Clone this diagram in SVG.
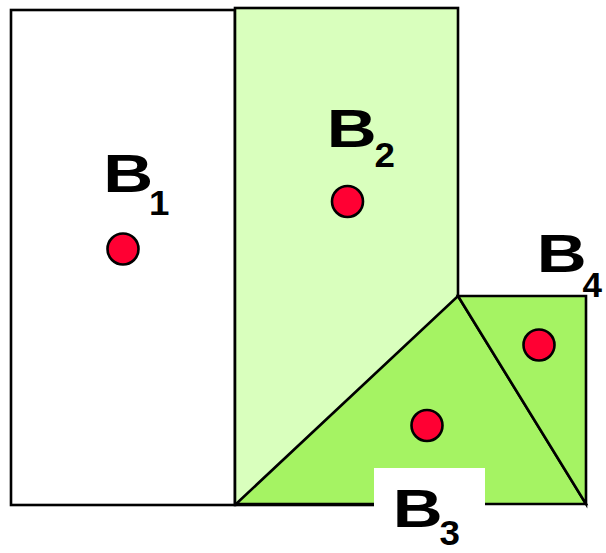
<svg xmlns="http://www.w3.org/2000/svg" width="606" height="553" viewBox="0 0 606 553">
<style>
.shape{stroke:#000;stroke-width:2.6;stroke-linejoin:miter}
.dot{fill:#ff0033;stroke:#000;stroke-width:2.6}
.lbl{font-family:"Liberation Sans",Arial,sans-serif;font-weight:bold;font-size:54px;fill:#000}
.sub{font-family:"Liberation Sans",Arial,sans-serif;font-weight:bold;font-size:35px;fill:#000}
</style>
<rect x="0" y="0" width="606" height="553" fill="#fff"/>
<g id="B1">
<rect class="shape" x="11" y="10" width="224" height="495" fill="#fff"/>
<circle class="dot" cx="123" cy="249" r="15.5"/>
<text class="lbl" transform="translate(103.3,192) scale(1.28,1)">B</text>
<text class="sub" transform="translate(149,215) scale(1.05,1)">1</text>
</g>
<g id="B2">
<rect class="shape" x="235" y="8" width="223" height="497" fill="#d9ffbd"/>
<circle class="dot" cx="347.5" cy="201.5" r="15.5"/>
<text class="lbl" transform="translate(326.7,147) scale(1.28,1)">B</text>
<text class="sub" transform="translate(374.5,167) scale(1.05,1)">2</text>
</g>
<g id="B3">
<polygon class="shape" points="236,504 458,296 586,504" fill="#a5f363"/>
<circle class="dot" cx="427" cy="425.5" r="15.5"/>
</g>
<g id="B4">
<polygon class="shape" points="458,296 586,296 586,504" fill="#a5f363"/>
<circle class="dot" cx="539" cy="345" r="15.5"/>
<text class="lbl" transform="translate(536.7,272) scale(1.28,1)">B</text>
<text class="sub" transform="translate(582.5,296.5) scale(1.0,1)">4</text>
</g>
<g id="B3-label">
<rect x="374" y="468" width="111" height="85" fill="#fff"/>
<text class="lbl" transform="translate(392.7,527) scale(1.28,1)">B</text>
<text class="sub" transform="translate(439.5,545) scale(1.05,1)">3</text>
</g>
<g id="connectors"/>
</svg>
